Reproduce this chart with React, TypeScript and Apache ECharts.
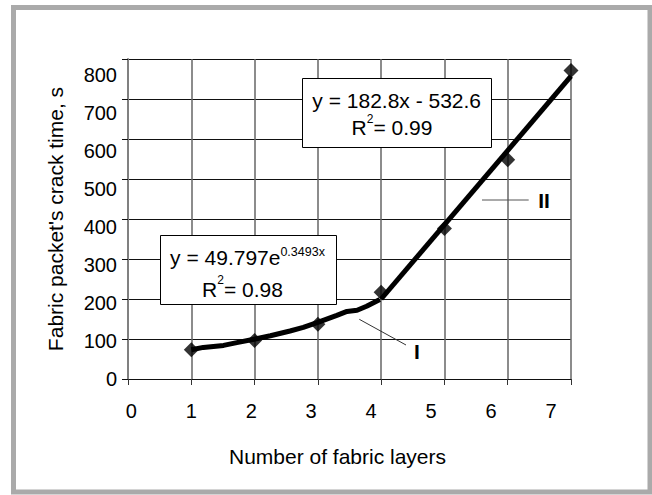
import React, { useEffect, useRef } from "react";
import * as echarts from "echarts";

const FONT = "'Liberation Sans', Arial, Helvetica, sans-serif";

// Measured data points (number of layers, crack time, s)
const layers = [1, 2, 3, 4, 5, 6, 7];
const crackTime = [73, 96, 137, 217, 376, 548, 771];

// Trend line I (exponential fit)
const trendIX = [1.0, 1.19, 1.51, 1.72, 2.01, 2.25, 2.56, 2.77, 3.01, 3.3, 3.46, 3.62, 3.77, 3.98];
const trendIY = [73, 79, 84, 91, 100, 108, 120, 129, 142, 159, 169, 172, 182, 199];

// Trend line II (linear fit)
const trendIIX = [4, 7];
const trendIIY = [200, 757];

// Tick labels
const xTickLabels = [0, 1, 2, 3, 4, 5, 6, 7];
const yTickLabels = [0, 100, 200, 300, 400, 500, 600, 700, 800];

const xTitle = "Number of fabric layers";
const yTitle = "Fabric packet's crack time, s";

const eqLinear = "y = 182.8x - 532.6";
const r2Linear = "0.99";
const eqExpBase = "y = 49.797e";
const eqExpPow = "0.3493x";
const r2Exp = "0.98";

export default function App() {
  const ref = useRef<HTMLDivElement>(null);

  useEffect(() => {
    if (!ref.current) return;
    const chart = echarts.init(ref.current, undefined, { renderer: "svg" });

    const pts = layers.map((x, i) => [x, crackTime[i]]);
    const t1 = trendIX.map((x, i) => [x, trendIY[i]]);
    const t2 = trendIIX.map((x, i) => [x, trendIIY[i]]);

    const labelStyle = { fontSize: 20, color: "#000", fontFamily: FONT };

    chart.setOption({
      animation: false,
      backgroundColor: "#fff",
      textStyle: { fontFamily: FONT },
      grid: { left: 128, top: 59, right: 81, bottom: 116 },
      xAxis: [
        {
          type: "value",
          min: 0,
          max: 7,
          interval: 1,
          position: "bottom",
          axisLine: { show: true, onZero: false, lineStyle: { color: "#111", width: 1 } },
          axisTick: { show: true, inside: false, length: 6, lineStyle: { color: "#333", width: 1 } },
          axisLabel: { show: false },
          splitLine: { show: true, lineStyle: { color: "#666", width: 1.5 } },
        },
        {
          type: "value",
          min: -0.055,
          max: 7.334,
          position: "bottom",
          axisLine: { show: false },
          axisTick: { show: false },
          splitLine: { show: false },
          axisLabel: { show: true, customValues: xTickLabels, margin: 22, ...labelStyle },
          name: xTitle,
          nameLocation: "middle",
          nameGap: 67,
          nameTextStyle: { fontSize: 21, color: "#000", fontFamily: FONT, padding: [0, 24, 0, 0] },
        },
      ],
      yAxis: [
        {
          type: "value",
          min: 0,
          max: 800,
          interval: 100,
          position: "left",
          axisLine: { show: true, onZero: false, lineStyle: { color: "#808080", width: 2 } },
          axisTick: { show: true, inside: false, length: 6, lineStyle: { color: "#111", width: 1 } },
          axisLabel: { show: false },
          splitLine: { show: true, lineStyle: { color: "#111", width: 1 } },
          name: yTitle,
          nameLocation: "middle",
          nameGap: 62,
          nameRotate: 90,
          nameTextStyle: { fontSize: 21, color: "#000", fontFamily: FONT },
        },
        {
          type: "value",
          min: 0,
          max: 841.3,
          position: "left",
          axisLine: { show: false },
          axisTick: { show: false },
          splitLine: { show: false },
          axisLabel: { show: true, customValues: yTickLabels, margin: 11, padding: [5, 0, 0, 0], ...labelStyle },
        },
      ],
      series: [
        {
          type: "line",
          xAxisIndex: 0,
          yAxisIndex: 0,
          data: t1,
          symbol: "none",
          showSymbol: false,
          lineStyle: { color: "#000", width: 5 },
          z: 3,
        },
        {
          type: "line",
          xAxisIndex: 0,
          yAxisIndex: 0,
          data: t2,
          symbol: "none",
          showSymbol: false,
          lineStyle: { color: "#000", width: 5 },
          z: 3,
        },
        {
          type: "scatter",
          xAxisIndex: 0,
          yAxisIndex: 0,
          data: pts,
          symbol: "diamond",
          symbolSize: [15, 15],
          itemStyle: { color: "#000" },
          z: 5,
        },
      ],
      graphic: [
        {
          type: "rect",
          z: 100,
          silent: true,
          shape: { x: 13.5, y: 7.5, width: 636.5, height: 484.5 },
          style: { fill: "none", stroke: "#aaaaaa", lineWidth: 5 },
        },
        {
          type: "rect",
          z: 100,
          shape: { x: 302.5, y: 78.5, width: 189, height: 69 },
          style: { fill: "#fff", stroke: "#000", lineWidth: 1 },
        },
        {
          type: "text",
          z: 101,
          x: 396.7,
          y: 100.8,
          style: { text: eqLinear, fontSize: 21, fontFamily: FONT, fill: "#000", align: "center", verticalAlign: "middle" },
        },
        {
          type: "text",
          z: 101,
          x: 392,
          y: 127.5,
          style: {
            text: `{m|R}{s|2}{m|= ${r2Linear}}`,
            align: "center",
            verticalAlign: "middle",
            fill: "#000",
            fontFamily: FONT,
            rich: {
              m: { fontSize: 21, lineHeight: 30, fontFamily: FONT, fill: "#000" },
              s: { fontSize: 12, lineHeight: 10, verticalAlign: "top", fontFamily: FONT, fill: "#000" },
            },
          },
        },
        {
          type: "rect",
          z: 100,
          shape: { x: 160.5, y: 235.5, width: 176, height: 69 },
          style: { fill: "#fff", stroke: "#000", lineWidth: 1 },
        },
        {
          type: "text",
          z: 101,
          x: 247.5,
          y: 257.7,
          style: {
            text: `{m|${eqExpBase}}{s|${eqExpPow}}`,
            align: "center",
            verticalAlign: "middle",
            fill: "#000",
            fontFamily: FONT,
            rich: {
              m: { fontSize: 21, lineHeight: 25, fontFamily: FONT, fill: "#000" },
              s: { fontSize: 12.5, lineHeight: 12, verticalAlign: "top", fontFamily: FONT, fill: "#000" },
            },
          },
        },
        {
          type: "text",
          z: 101,
          x: 242.5,
          y: 289,
          style: {
            text: `{m|R}{s|2}{m|= ${r2Exp}}`,
            align: "center",
            verticalAlign: "middle",
            fill: "#000",
            fontFamily: FONT,
            rich: {
              m: { fontSize: 21, lineHeight: 30, fontFamily: FONT, fill: "#000" },
              s: { fontSize: 12, lineHeight: 6, verticalAlign: "top", fontFamily: FONT, fill: "#000" },
            },
          },
        },
        {
          type: "line",
          z: 100,
          shape: { x1: 359.3, y1: 319.3, x2: 406, y2: 345 },
          style: { stroke: "#333", lineWidth: 1 },
        },
        {
          type: "text",
          z: 101,
          x: 417,
          y: 351,
          style: { text: "I", fontSize: 21, fontWeight: "bold", fontFamily: FONT, fill: "#000", align: "center", verticalAlign: "middle" },
        },
        {
          type: "line",
          z: 100,
          shape: { x1: 482, y1: 200, x2: 528.7, y2: 200 },
          style: { stroke: "#555", lineWidth: 1 },
        },
        {
          type: "text",
          z: 101,
          x: 544,
          y: 200.7,
          style: { text: "II", fontSize: 21, fontWeight: "bold", fontFamily: FONT, fill: "#000", align: "center", verticalAlign: "middle" },
        },
      ],
    });

    return () => chart.dispose();
  }, []);

  return (
    <div
      ref={ref}
      style={{ position: "fixed", left: 0, top: 0, width: 652, height: 495, background: "#fff" }}
    />
  );
}
